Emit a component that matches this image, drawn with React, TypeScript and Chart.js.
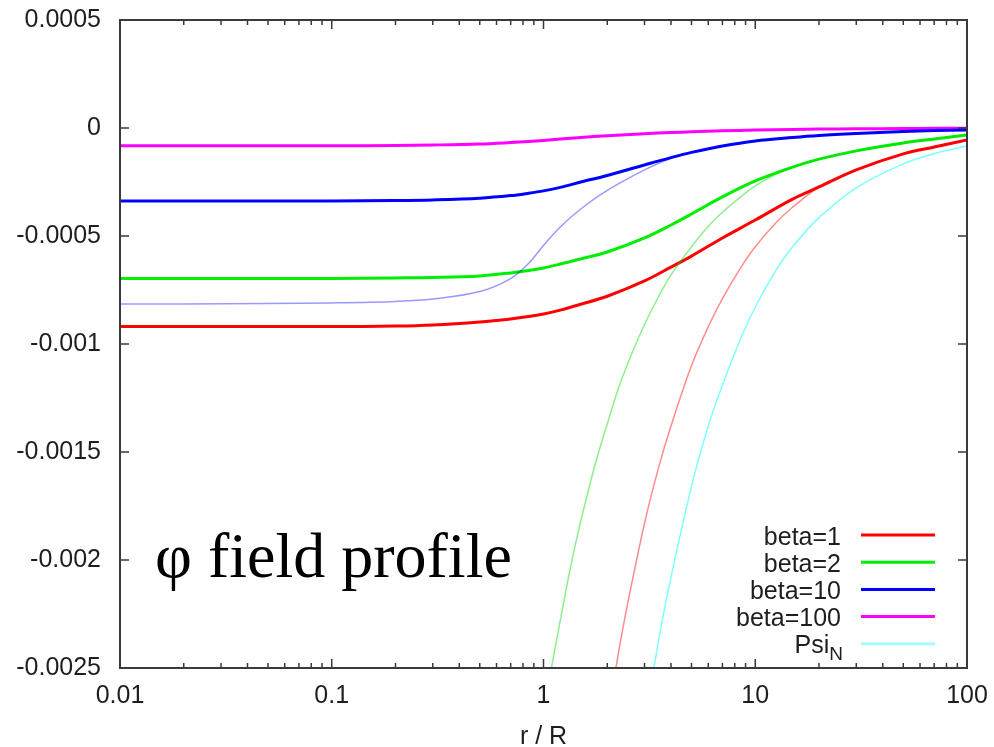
import React, { useEffect, useRef } from "react";
import { Chart, registerables } from "chart.js";

Chart.register(...registerables);

// ---------- data ----------
const X = [0.01, 0.02, 0.05, 0.1, 0.2, 0.3, 0.5, 0.7, 0.85, 1, 1.2, 1.5, 2, 3, 4, 5, 7, 10, 15, 20, 30, 50, 70, 100];

const BETA1 = [-0.000919, -0.000919, -0.000919, -0.000919, -0.000917, -0.000912, -0.000898, -0.000884, -0.000873, -0.000861, -0.000843, -0.000816, -0.000779, -0.000708, -0.000644, -0.000593, -0.000509, -0.000426, -0.000329, -0.000273, -0.000194, -0.00012, -0.000088, -0.0000556];
const BETA2 = [-0.000697, -0.000697, -0.000697, -0.000697, -0.000694, -0.000692, -0.000685, -0.000671, -0.00066, -0.000648, -0.00063, -0.000606, -0.000574, -0.000509, -0.000449, -0.000398, -0.000319, -0.000245, -0.000181, -0.000144, -0.000106, -0.0000694, -0.0000509, -0.0000324];
const BETA10 = [-0.000338, -0.000338, -0.000338, -0.000338, -0.000336, -0.000333, -0.000325, -0.000313, -0.000302, -0.000291, -0.000275, -0.00025, -0.00022, -0.000171, -0.000137, -0.000113, -0.0000833, -0.00006, -0.000044, -0.0000347, -0.0000255, -0.0000162, -0.0000116, -0.0000093];
const BETA100 = [-0.000082, -0.000082, -0.000082, -0.000082, -0.000081, -0.0000787, -0.000074, -0.0000675, -0.0000628, -0.0000579, -0.0000512, -0.000044, -0.000036, -0.0000265, -0.0000212, -0.0000175, -0.000013, -0.0000095, -0.0000069, -0.0000052, -0.0000038, -0.0000024, -0.0000016, -0.0000009];
// thin companion of beta=10
const BETA10_THIN = [-0.000815, -0.000815, -0.000813, -0.00081, -0.000803, -0.000792, -0.000757, -0.000697, -0.000627, -0.000544, -0.000458, -0.000375, -0.000289, -0.000194, -0.00014, -0.000114, -0.0000833, -0.00006, -0.000044, -0.0000347, -0.0000255, -0.0000162, -0.0000116, -0.0000093];

const X_THIN = [1, 1.1, 1.2, 1.35, 1.5, 1.75, 2, 2.25, 2.5, 3, 3.5, 4, 5, 6, 7, 8.5, 10, 12.5, 15, 20, 30, 50, 70, 100];
const BETA2_THIN = [-0.00273, -0.00248, -0.00228, -0.00202, -0.00182, -0.00156, -0.00137, -0.00121, -0.00109, -0.00091, -0.00078, -0.00068, -0.00055, -0.000455, -0.00039, -0.00032, -0.000268, -0.000214, -0.000182, -0.000144, -0.000106, -0.0000694, -0.0000509, -0.0000324];
const BETA1_THIN = [null, null, null, null, null, null, -0.00275, -0.00244, -0.0022, -0.00183, -0.00157, -0.00138, -0.0011, -0.00092, -0.00079, -0.00065, -0.00055, -0.00044, -0.000367, -0.000275, -0.000194, -0.00012, -0.000088, -0.0000556];
const PSI_N = [null, null, null, null, null, null, null, null, null, -0.00277, -0.00237, -0.00208, -0.00166, -0.00138, -0.00119, -0.00098, -0.00083, -0.00066, -0.00055, -0.000415, -0.000277, -0.000166, -0.000119, -0.000083];

const LEGEND_LABELS = ["beta=1", "beta=2", "beta=10", "beta=100", "Psi_N"];

const X_TICKS = [0.01, 0.1, 1, 10, 100];
const X_TICK_LABELS = ["0.01", "0.1", "1", "10", "100"];
const Y_TICKS = [0.0005, 0, -0.0005, -0.001, -0.0015, -0.002, -0.0025];
const Y_TICK_LABELS = ["0.0005", "0", "-0.0005", "-0.001", "-0.0015", "-0.002", "-0.0025"];

const X_TITLE = "r / R";
const ANNOTATION = "\u03c6 field profile";

// ---------- helpers ----------
const pts = (xs: number[], ys: (number | null)[]) =>
  xs.map((x, i) => ({ x, y: ys[i] })).filter((p) => p.y !== null);

const SANS = '"Liberation Sans", Arial, Helvetica, sans-serif';
const TEXT = "#1e1e1e";
const FRAME = "#3a3a3a";

const framePlugin = {
  id: "gnuplotFrame",
  afterDraw(chart: any) {
    const { ctx, chartArea: a, scales } = chart;
    const xs = scales.x;
    const ys = scales.y;
    ctx.save();

    // tick marks (inward, mirrored)
    ctx.strokeStyle = FRAME;
    ctx.lineWidth = 1.5;
    ctx.beginPath();
    const lo = Math.floor(Math.log10(xs.min) + 1e-9);
    const hi = Math.ceil(Math.log10(xs.max) - 1e-9);
    for (let e = lo; e <= hi; e++) {
      for (let k = 1; k <= 9; k++) {
        const v = k * Math.pow(10, e);
        if (v < xs.min * 0.999 || v > xs.max * 1.001) continue;
        const px = xs.getPixelForValue(v);
        const len = k === 1 ? 9 : 5;
        ctx.moveTo(px, a.bottom);
        ctx.lineTo(px, a.bottom - len);
        ctx.moveTo(px, a.top);
        ctx.lineTo(px, a.top + len);
      }
    }
    ys.ticks.forEach((t: any) => {
      const py = ys.getPixelForValue(t.value);
      ctx.moveTo(a.left, py);
      ctx.lineTo(a.left + 9, py);
      ctx.moveTo(a.right, py);
      ctx.lineTo(a.right - 9, py);
    });
    ctx.stroke();

    // frame
    ctx.lineWidth = 2;
    ctx.strokeRect(a.left, a.top, a.right - a.left, a.bottom - a.top);

    // legend (gnuplot style: text right-aligned, sample on the right)
    const textRight = a.right - 126;
    const lineL = a.right - 106;
    const lineR = a.right - 32;
    const y0 = a.bottom - 133;
    const step = 27.2;
    const legendSets = chart.data.datasets.filter((d: any) => d.legendLabel);
    legendSets.forEach((d: any, i: number) => {
      const y = y0 + i * step;
      ctx.strokeStyle = d.legendColor || d.borderColor;
      ctx.lineWidth = 3;
      ctx.beginPath();
      ctx.moveTo(lineL, y);
      ctx.lineTo(lineR, y);
      ctx.stroke();
      ctx.fillStyle = TEXT;
      ctx.textBaseline = "alphabetic";
      const label: string = d.legendLabel;
      if (label.includes("_")) {
        const [base, sub] = label.split("_");
        ctx.font = `19px ${SANS}`;
        const wSub = ctx.measureText(sub).width;
        ctx.textAlign = "left";
        ctx.fillText(sub, textRight - wSub + 2, y + 16);
        ctx.font = `25px ${SANS}`;
        ctx.textAlign = "right";
        ctx.fillText(base, textRight - wSub + 2, y + 9.5);
      } else {
        ctx.font = `25px ${SANS}`;
        ctx.textAlign = "right";
        ctx.fillText(label, textRight, y + 9.5);
      }
    });

    // annotation
    ctx.fillStyle = "#000";
    ctx.font = '64px "Liberation Serif", "Times New Roman", serif';
    ctx.textAlign = "left";
    ctx.textBaseline = "alphabetic";
    ctx.fillText(ANNOTATION, a.left + 35, 577);

    ctx.restore();
  },
};

const zeroPad = (s: any) => {
  s.paddingTop = 0;
  s.paddingBottom = 0;
  s.paddingLeft = 0;
  s.paddingRight = 0;
};

export default function App() {
  const ref = useRef<HTMLCanvasElement | null>(null);

  useEffect(() => {
    if (!ref.current) return;
    const thick = 3;
    const thin = 1.5;
    const common = {
      pointRadius: 0,
      pointHoverRadius: 0,
      tension: 0.35,
      fill: false,
    };
    const chart = new Chart(ref.current, {
      type: "line",
      data: {
        datasets: [
          { ...common, data: pts(X, BETA10_THIN), borderColor: "rgba(0,0,255,0.4)", borderWidth: thin, order: 0 },
          { ...common, data: pts(X_THIN, BETA2_THIN), borderColor: "rgba(0,220,0,0.45)", borderWidth: thin, order: 0 },
          { ...common, data: pts(X_THIN, BETA1_THIN), borderColor: "rgba(255,0,0,0.45)", borderWidth: thin, order: 0 },
          { ...common, data: pts(X, BETA1), borderColor: "#ff0000", borderWidth: thick, order: 1, legendLabel: LEGEND_LABELS[0] },
          { ...common, data: pts(X, BETA2), borderColor: "#00ee00", borderWidth: thick, order: 1, legendLabel: LEGEND_LABELS[1] },
          { ...common, data: pts(X, BETA10), borderColor: "#0000ff", borderWidth: thick, order: 1, legendLabel: LEGEND_LABELS[2] },
          { ...common, data: pts(X, BETA100), borderColor: "#ff00ff", borderWidth: thick, order: 1, legendLabel: LEGEND_LABELS[3] },
          { ...common, data: pts(X_THIN, PSI_N), borderColor: "rgba(0,255,255,0.5)", borderWidth: thin, order: 0, legendLabel: LEGEND_LABELS[4], legendColor: "rgba(0,255,255,0.35)" },
        ] as any,
      },
      options: {
        animation: false,
        responsive: false,
        maintainAspectRatio: false,
        events: [],
        layout: { padding: { left: 0, top: 20, right: 27, bottom: 0 } },
        plugins: {
          legend: { display: false },
          tooltip: { enabled: false },
        },
        scales: {
          x: {
            type: "logarithmic",
            min: 0.01,
            max: 100,
            grid: { display: false, drawTicks: false },
            border: { display: false },
            ticks: {
              autoSkip: false,
              maxRotation: 0,
              padding: 13,
              color: TEXT,
              font: { family: SANS, size: 25 },
              callback: (v: any) => {
                const i = X_TICKS.findIndex((t) => Math.abs(Math.log10(t) - Math.log10(Number(v))) < 1e-6);
                return i >= 0 ? X_TICK_LABELS[i] : "";
              },
            },
            title: {
              display: true,
              text: X_TITLE,
              color: TEXT,
              font: { family: SANS, size: 25, lineHeight: 0.8 },
              padding: { top: 0, bottom: 0 },
            },
            afterFit: (s: any) => {
              s.height = 79;
              zeroPad(s);
            },
          },
          y: {
            type: "linear",
            min: -0.0025,
            max: 0.0005,
            grid: { display: false, drawTicks: false },
            border: { display: false },
            ticks: {
              stepSize: 0.0005,
              padding: 19,
              color: TEXT,
              font: { family: SANS, size: 25 },
              callback: (v: any) => {
                const i = Y_TICKS.findIndex((t) => Math.abs(t - Number(v)) < 1e-9);
                return i >= 0 ? Y_TICK_LABELS[i] : "";
              },
            },
            afterFit: (s: any) => {
              s.width = 120;
              zeroPad(s);
            },
          },
        },
      } as any,
      plugins: [framePlugin],
    });
    return () => chart.destroy();
  }, []);

  return (
    <div style={{ position: "fixed", left: 0, top: 0, width: 994, height: 747, background: "#fff" }}>
      <canvas ref={ref} width={994} height={747} style={{ display: "block", width: 994, height: 747 }} />
    </div>
  );
}
